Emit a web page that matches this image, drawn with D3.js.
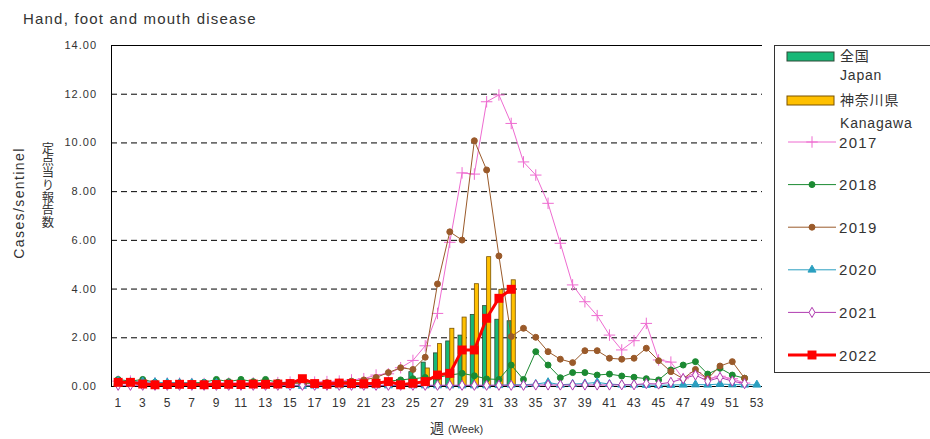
<!DOCTYPE html>
<html lang="ja">
<head>
<meta charset="UTF-8">
<title>Hand, foot and mouth disease</title>
<style>
  body { margin: 0; background: #fff; }
  text { font-family: "Liberation Sans", Arial, sans-serif; fill: #333; }
  .grid line { stroke: #000; stroke-dasharray: 6 4; stroke-width: 1; }
</style>
<script src="https://d3js.org/d3.v7.min.js"></script>
</head>
<body>
<script>
// Semanas y etiquetas
var weeks = d3.range(1, 54);
var weekTicks = d3.range(1, 54, 2);
var yTicks = [0, 2, 4, 6, 8, 10, 12, 14];

// Barras 2022 (semanas 1-33)
var japan2022 = [0.05,0.05,0.04,0.03,0.03,0.03,0.03,0.03,0.03,0.03,0.03,0.04,0.04,0.04,0.05,0.05,0.05,0.06,0.07,0.08,0.1,0.13,0.2,0.27,0.59,0.98,1.36,1.85,2.09,2.94,3.3,2.74,2.68];
var kanagawa2022 = [0.1,0.12,0.05,0.04,0.05,0.05,0.05,0.04,0.05,0.05,0.05,0.06,0.06,0.06,0.08,0.15,0.08,0.06,0.1,0.08,0.08,0.1,0.15,0.1,0.3,0.74,1.74,2.37,2.83,4.2,5.31,3.97,4.36];

// Lineas por año (Kanagawa)
var y2017 = [0.2,0.2,0.15,0.12,0.12,0.12,0.1,0.1,0.12,0.12,0.12,0.13,0.13,0.14,0.16,0.15,0.16,0.18,0.2,0.25,0.3,0.45,0.5,0.75,1.05,1.65,2.98,5.9,8.75,8.7,11.67,11.95,10.78,9.2,8.66,7.5,5.86,4.15,3.46,2.89,2.09,1.48,1.86,2.57,1.07,0.98,0.3,0.55,0.3,0.4,0.3,0.12];
var y2018 = [0.27,0.2,0.27,0.15,0.12,0.12,0.13,0.15,0.27,0.18,0.27,0.18,0.27,0.15,0.14,0.12,0.1,0.1,0.1,0.12,0.12,0.15,0.2,0.25,0.3,0.35,0.35,0.45,0.52,0.42,0.29,0.27,0.86,0.27,1.41,0.86,0.34,0.55,0.55,0.45,0.49,0.41,0.36,0.3,0.25,0.66,0.86,1.0,0.49,0.73,0.45,0.32];
var y2019 = [0.1,0.1,0.08,0.08,0.08,0.08,0.08,0.08,0.08,0.08,0.1,0.1,0.1,0.1,0.1,0.12,0.12,0.14,0.16,0.2,0.25,0.35,0.55,0.75,0.68,1.18,4.19,6.33,5.99,10.07,8.87,5.34,2.03,2.37,2.0,1.41,1.1,0.96,1.45,1.45,1.14,1.1,1.14,1.55,1.04,0.59,0.3,0.68,0.3,0.82,1.0,0.32];
var y2020 = [0.2,0.15,0.18,0.15,0.14,0.13,0.12,0.1,0.12,0.08,0.06,0.05,0.04,0.03,0.02,0.0,0.01,0.02,0.02,0.02,0.02,0.02,0.02,0.02,0.02,0.02,0.02,0.02,0.02,0.02,0.02,0.03,0.05,0.05,0.08,0.15,0.05,0.08,0.1,0.15,0.08,0.05,0.05,0.04,0.03,0.04,0.05,0.06,0.05,0.08,0.06,0.05,0.05];
var y2021 = [0.03,0.03,0.03,0.03,0.03,0.03,0.03,0.03,0.03,0.03,0.03,0.03,0.03,0.03,0.03,0.03,0.03,0.03,0.03,0.03,0.03,0.03,0.03,0.03,0.03,0.03,0.03,0.03,0.03,0.03,0.03,0.03,0.03,0.03,0.04,0.04,0.04,0.04,0.04,0.04,0.04,0.05,0.05,0.1,0.08,0.15,0.3,0.45,0.2,0.35,0.2,0.1];
var y2022 = [0.15,0.15,0.08,0.05,0.06,0.07,0.06,0.05,0.06,0.07,0.06,0.08,0.07,0.08,0.1,0.3,0.1,0.07,0.12,0.1,0.09,0.11,0.18,0.05,0.11,0.18,0.45,0.52,1.48,1.48,2.78,3.6,3.97];

var series = [
  { name: "2017", values: y2017, color: "#ee6bd0", symbol: d3.symbolPlus, size: 45, fill: "none", width: 1 },
  { name: "2018", values: y2018, color: "#1b8a32", symbol: d3.symbolCircle, size: 28, fill: "#1b8a32", width: 1 },
  { name: "2019", values: y2019, color: "#9a5a2a", symbol: d3.symbolCircle, size: 28, fill: "#9a5a2a", width: 1 },
  { name: "2020", values: y2020, color: "#2a9fc0", symbol: d3.symbolTriangle, size: 28, fill: "#2a9fc0", width: 1 },
  { name: "2021", values: y2021, color: "#b03cb0", symbol: d3.symbolDiamond, size: 30, fill: "#fff", width: 1 },
  { name: "2022", values: y2022, color: "#ff0000", symbol: d3.symbolSquare, size: 80, fill: "#ff0000", width: 3 }
];

function grafico() {
  var ancho = 930, alto = 439;
  var izq = 111, der = 763, arriba = 45, abajo = 386;

  var svg = d3.select("body").append("svg")
    .attr("width", ancho)
    .attr("height", alto);

  var x = d3.scaleBand().domain(weeks).range([izq + 1, der]).padding(0);
  var y = d3.scaleLinear().domain([0, 14]).range([abajo, arriba]);
  var sub = d3.scaleBand().domain(["japan", "kanagawa"])
    .range([0, x.bandwidth()]).paddingOuter(0.5).paddingInner(0);
  var cx = function(w) { return x(w) + x.bandwidth() / 2; };

  // Titulo
  svg.append("text").attr("x", 23).attr("y", 24)
    .style("font-size", "15px").style("letter-spacing", "1.2px")
    .text("Hand, foot and mouth disease");

  // Rejilla punteada
  svg.append("g").attr("class", "grid")
    .selectAll("line").data(yTicks.filter(function(t) { return t > 0 && t < 14; }))
    .enter().append("line")
    .attr("x1", izq).attr("x2", der - 1)
    .attr("y1", function(d) { return y(d) + 0.5; })
    .attr("y2", function(d) { return y(d) + 0.5; });

  // Bordes del area
  svg.append("line").attr("x1", izq).attr("x2", der - 1)
    .attr("y1", arriba + 0.5).attr("y2", arriba + 0.5).attr("stroke", "#000");
  svg.append("line").attr("x1", izq + 0.5).attr("x2", izq + 0.5)
    .attr("y1", arriba).attr("y2", abajo).attr("stroke", "#000");
  svg.append("line").attr("x1", izq).attr("x2", der - 1)
    .attr("y1", abajo + 0.5).attr("y2", abajo + 0.5).attr("stroke", "#000");

  // Eje Y
  var ejeY = d3.axisLeft(y).tickValues(yTicks).tickSize(0).tickPadding(14)
    .tickFormat(d3.format(".2f"));
  var gy = svg.append("g").attr("transform", "translate(" + izq + ",0)").call(ejeY);
  gy.select(".domain").remove();
  gy.selectAll("text").style("font-size", "11px").style("letter-spacing", "1px")
    .style("font-family", "'Liberation Sans', Arial, sans-serif").attr("fill", "#333");

  // Eje X
  var ejeX = d3.axisBottom(x).tickValues(weekTicks).tickSize(0).tickPadding(12);
  var gx = svg.append("g").attr("transform", "translate(0," + abajo + ")").call(ejeX);
  gx.select(".domain").remove();
  gx.selectAll("text").style("font-size", "12px").style("letter-spacing", "0.5px")
    .style("font-family", "'Liberation Sans', Arial, sans-serif").attr("fill", "#333");

  // Titulos de ejes
  svg.append("text")
    .attr("transform", "translate(24,203) rotate(-90)")
    .attr("text-anchor", "middle")
    .style("font-size", "14px").style("letter-spacing", "1.4px")
    .text("Cases/sentinel");
  // Texto vertical en japones
  svg.append("text")
    .attr("x", 48).attr("y", 185)
    .attr("text-anchor", "middle")
    .style("writing-mode", "vertical-rl")
    .style("text-orientation", "upright")
    .style("font-family", "'Noto Sans CJK JP', sans-serif")
    .style("font-size", "12.3px")
    .text("定点当り報告数");
  var xl = svg.append("text").attr("x", 430).attr("y", 433);
  xl.append("tspan").style("font-family", "'Noto Sans CJK JP', sans-serif")
    .style("font-size", "14px").text("週");
  xl.append("tspan").attr("dx", 4).style("font-size", "11px").text("(Week)");

  // Barras 2022
  var bars = weeks.slice(0, japan2022.length).map(function(w, i) {
    return { week: w, japan: japan2022[i], kanagawa: kanagawa2022[i] };
  });
  var gb = svg.append("g");
  gb.selectAll(".japan").data(bars).enter().append("rect")
    .attr("x", function(d) { return x(d.week) + sub("japan"); })
    .attr("width", sub.bandwidth())
    .attr("y", function(d) { return y(d.japan); })
    .attr("height", function(d) { return y(0) - y(d.japan); })
    .attr("fill", "#17b877").attr("stroke", "#2d4a36").attr("stroke-width", 0.8);
  gb.selectAll(".kanagawa").data(bars).enter().append("rect")
    .attr("x", function(d) { return x(d.week) + sub("kanagawa"); })
    .attr("width", sub.bandwidth())
    .attr("y", function(d) { return y(d.kanagawa); })
    .attr("height", function(d) { return y(0) - y(d.kanagawa); })
    .attr("fill", "#ffc000").attr("stroke", "#7a5200").attr("stroke-width", 0.8);

  // Lineas con marcadores
  var linea = d3.line()
    .x(function(d, i) { return cx(weeks[i]); })
    .y(function(d) { return y(d); });

  series.forEach(function(s) {
    var g = svg.append("g");
    g.append("path").datum(s.values)
      .attr("d", linea).attr("fill", "none")
      .attr("stroke", s.color).attr("stroke-width", s.width);
    g.selectAll("path.m").data(s.values).enter().append("path")
      .attr("class", "m")
      .attr("transform", function(d, i) { return "translate(" + cx(weeks[i]) + "," + y(d) + ")"; })
      .attr("d", d3.symbol().type(s.symbol).size(s.size))
      .attr("fill", s.fill).attr("stroke", s.color)
      .attr("stroke-width", s.symbol === d3.symbolSquare ? 0 : 1);
  });

  // Leyenda
  var lg = svg.append("g");
  lg.append("rect").attr("x", 774.5).attr("y", 45.5).attr("width", 170).attr("height", 327)
    .attr("fill", "#fff").attr("stroke", "#333");
  lg.append("rect").attr("x", 787).attr("y", 52).attr("width", 47).attr("height", 9)
    .attr("fill", "#17b877").attr("stroke", "#2d4a36");
  lg.append("rect").attr("x", 787).attr("y", 96).attr("width", 47).attr("height", 9)
    .attr("fill", "#ffc000").attr("stroke", "#7a5200");
  var lt = [
    { t: "全国", y: 61, cjk: true }, { t: "Japan", y: 80 },
    { t: "神奈川県", y: 105, cjk: true }, { t: "Kanagawa", y: 128 }
  ];
  lg.selectAll("text.lt").data(lt).enter().append("text")
    .attr("x", 840).attr("y", function(d) { return d.y; })
    .style("font-size", "14px")
    .style("font-family", function(d) { return d.cjk ? "'Noto Sans CJK JP', sans-serif" : null; })
    .style("letter-spacing", "0.8px")
    .text(function(d) { return d.t; });

  var ly = d3.scalePoint().domain(series.map(function(s) { return s.name; })).range([142, 355]);
  var li = lg.selectAll("g.item").data(series).enter().append("g")
    .attr("transform", function(d) { return "translate(0," + ly(d.name) + ")"; });
  li.append("line").attr("x1", 788).attr("x2", 836)
    .attr("stroke", function(d) { return d.color; })
    .attr("stroke-width", function(d) { return d.width; });
  li.append("path").attr("transform", "translate(812,0)")
    .attr("d", function(d) { return d3.symbol().type(d.symbol).size(d.size)(); })
    .attr("fill", function(d) { return d.fill; })
    .attr("stroke", function(d) { return d.color; })
    .attr("stroke-width", function(d) { return d.symbol === d3.symbolSquare ? 0 : 1; });
  li.append("text").attr("x", 839).attr("y", 5.5)
    .style("font-size", "15px").style("letter-spacing", "1.3px")
    .text(function(d) { return d.name; });
}

grafico();
</script>
</body>
</html>
